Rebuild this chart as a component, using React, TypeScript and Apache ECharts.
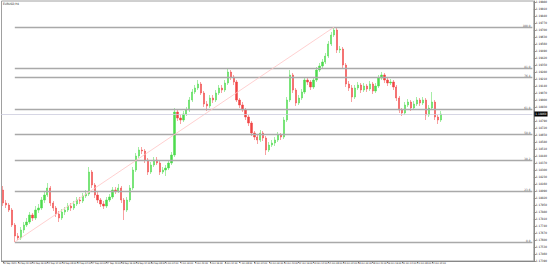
import React, { useEffect, useRef } from "react";
import * as echarts from "echarts";

const symbolTitle = "EURUSD,H4";

const opens = [
  1.1810, 1.1797, 1.1795, 1.1790, 1.1775, 1.1764, 1.1762, 1.1770, 1.1775, 1.1778,
  1.1785, 1.1782, 1.1790, 1.1792, 1.1800, 1.1805, 1.1812, 1.1797, 1.1792, 1.1786,
  1.1782, 1.1788, 1.1790, 1.1794, 1.1792, 1.1796, 1.1800, 1.1799, 1.1804, 1.1806,
  1.1828, 1.1815, 1.1805, 1.1800, 1.1796, 1.1794, 1.1800, 1.1803, 1.1810, 1.1809,
  1.1812, 1.1800, 1.1790, 1.1800, 1.1812, 1.1830, 1.1844, 1.1850, 1.1849, 1.1840,
  1.1828, 1.1835, 1.1840, 1.1837, 1.1828, 1.1830, 1.1832, 1.1837, 1.1845, 1.1888,
  1.1882, 1.1880, 1.1886, 1.1890, 1.1900, 1.1908, 1.1912, 1.1916, 1.1907, 1.1896,
  1.1894, 1.1902, 1.1900, 1.1907, 1.1912, 1.1910, 1.1917, 1.1928, 1.1923, 1.1918,
  1.1900, 1.1895, 1.1890, 1.1883, 1.1877, 1.1867, 1.1863, 1.1860, 1.1867, 1.1862,
  1.1850, 1.1855, 1.1857, 1.1860, 1.1865, 1.1863, 1.1880, 1.1900, 1.1925, 1.1910,
  1.1897, 1.1902, 1.1908, 1.1920, 1.1918, 1.1913, 1.1920, 1.1930, 1.1934, 1.1938,
  1.1944, 1.1956, 1.1965, 1.1970, 1.1950, 1.1951, 1.1935, 1.1916, 1.1912, 1.1903,
  1.1912, 1.1915, 1.1910, 1.1914, 1.1911, 1.1916, 1.1909, 1.1914, 1.1922, 1.1925,
  1.1920, 1.1917, 1.1918, 1.1913, 1.1902, 1.1890, 1.1887, 1.1895, 1.1898, 1.1892,
  1.1896, 1.1900, 1.1897, 1.1900, 1.1885, 1.1892, 1.1898, 1.1883, 1.1880,
];

const closes = [
  1.1797, 1.1795, 1.1790, 1.1775, 1.1764, 1.1762, 1.1770, 1.1775, 1.1778, 1.1785,
  1.1782, 1.1790, 1.1792, 1.1800, 1.1805, 1.1812, 1.1797, 1.1792, 1.1786, 1.1782,
  1.1788, 1.1790, 1.1794, 1.1792, 1.1796, 1.1800, 1.1799, 1.1804, 1.1806, 1.1828,
  1.1815, 1.1805, 1.1800, 1.1796, 1.1794, 1.1800, 1.1803, 1.1810, 1.1809, 1.1812,
  1.1800, 1.1790, 1.1800, 1.1812, 1.1830, 1.1844, 1.1850, 1.1849, 1.1840, 1.1828,
  1.1835, 1.1840, 1.1837, 1.1828, 1.1830, 1.1832, 1.1837, 1.1845, 1.1888, 1.1882,
  1.1880, 1.1886, 1.1890, 1.1900, 1.1908, 1.1912, 1.1916, 1.1907, 1.1896, 1.1894,
  1.1902, 1.1900, 1.1907, 1.1912, 1.1910, 1.1917, 1.1928, 1.1923, 1.1918, 1.1900,
  1.1895, 1.1890, 1.1883, 1.1877, 1.1867, 1.1863, 1.1860, 1.1867, 1.1862, 1.1850,
  1.1855, 1.1857, 1.1860, 1.1865, 1.1863, 1.1880, 1.1900, 1.1925, 1.1910, 1.1897,
  1.1902, 1.1908, 1.1920, 1.1918, 1.1913, 1.1920, 1.1930, 1.1934, 1.1938, 1.1944,
  1.1956, 1.1965, 1.1970, 1.1950, 1.1951, 1.1935, 1.1916, 1.1912, 1.1903, 1.1912,
  1.1915, 1.1910, 1.1914, 1.1911, 1.1916, 1.1909, 1.1914, 1.1922, 1.1925, 1.1920,
  1.1917, 1.1918, 1.1913, 1.1902, 1.1890, 1.1887, 1.1895, 1.1898, 1.1892, 1.1896,
  1.1900, 1.1897, 1.1900, 1.1885, 1.1892, 1.1898, 1.1883, 1.1880, 1.1886,
];

const highs = [
  1.1814, 1.1800, 1.1797, 1.1792, 1.1777, 1.1767, 1.1773, 1.1778, 1.1782, 1.1788,
  1.1787, 1.1794, 1.1796, 1.1803, 1.1808, 1.1817, 1.1814, 1.1799, 1.1794, 1.1789,
  1.1791, 1.1793, 1.1797, 1.1797, 1.1799, 1.1803, 1.1803, 1.1807, 1.1810, 1.1833,
  1.1830, 1.1817, 1.1808, 1.1802, 1.1799, 1.1803, 1.1806, 1.1813, 1.1813, 1.1816,
  1.1814, 1.1802, 1.1803, 1.1815, 1.1833, 1.1847, 1.1853, 1.1853, 1.1851, 1.1842,
  1.1838, 1.1843, 1.1843, 1.1839, 1.1833, 1.1835, 1.1840, 1.1848, 1.1892, 1.1891,
  1.1885, 1.1889, 1.1893, 1.1903, 1.1911, 1.1915, 1.1920, 1.1918, 1.1909, 1.1899,
  1.1905, 1.1905, 1.1910, 1.1915, 1.1915, 1.1920, 1.1932, 1.1930, 1.1925, 1.1920,
  1.1902, 1.1898, 1.1892, 1.1885, 1.1879, 1.1869, 1.1865, 1.1870, 1.1869, 1.1864,
  1.1858, 1.1860, 1.1863, 1.1868, 1.1867, 1.1883, 1.1903, 1.1930, 1.1927, 1.1912,
  1.1905, 1.1911, 1.1923, 1.1922, 1.1920, 1.1923, 1.1933, 1.1937, 1.1941, 1.1947,
  1.1959, 1.1968, 1.1973, 1.1972, 1.1954, 1.1953, 1.1937, 1.1919, 1.1915, 1.1915,
  1.1918, 1.1917, 1.1917, 1.1916, 1.1919, 1.1918, 1.1917, 1.1925, 1.1928, 1.1927,
  1.1922, 1.1921, 1.1920, 1.1915, 1.1904, 1.1892, 1.1898, 1.1901, 1.1900, 1.1899,
  1.1903, 1.1902, 1.1903, 1.1902, 1.1895, 1.1908, 1.1900, 1.1885, 1.1889,
];

const lows = [
  1.1794, 1.1792, 1.1788, 1.1773, 1.1758, 1.1760, 1.1760, 1.1767, 1.1773, 1.1776,
  1.1779, 1.1780, 1.1787, 1.1790, 1.1797, 1.1803, 1.1794, 1.1789, 1.1783, 1.1778,
  1.1780, 1.1785, 1.1788, 1.1789, 1.1790, 1.1794, 1.1796, 1.1797, 1.1802, 1.1804,
  1.1812, 1.1802, 1.1797, 1.1793, 1.1791, 1.1792, 1.1798, 1.1801, 1.1806, 1.1807,
  1.1797, 1.1780, 1.1788, 1.1798, 1.1810, 1.1828, 1.1842, 1.1846, 1.1837, 1.1825,
  1.1826, 1.1833, 1.1835, 1.1825, 1.1826, 1.1824, 1.1830, 1.1835, 1.1843, 1.1879,
  1.1876, 1.1878, 1.1884, 1.1888, 1.1898, 1.1906, 1.1910, 1.1905, 1.1893, 1.1889,
  1.1892, 1.1897, 1.1898, 1.1905, 1.1907, 1.1908, 1.1915, 1.1920, 1.1915, 1.1898,
  1.1892, 1.1888, 1.1880, 1.1874, 1.1864, 1.1860, 1.1856, 1.1858, 1.1859, 1.1845,
  1.1848, 1.1853, 1.1854, 1.1858, 1.1860, 1.1861, 1.1878, 1.1898, 1.1907, 1.1894,
  1.1895, 1.1900, 1.1906, 1.1915, 1.1910, 1.1911, 1.1918, 1.1928, 1.1932, 1.1936,
  1.1942, 1.1954, 1.1963, 1.1947, 1.1947, 1.1932, 1.1913, 1.1909, 1.1898, 1.1901,
  1.1910, 1.1907, 1.1908, 1.1908, 1.1909, 1.1906, 1.1907, 1.1912, 1.1920, 1.1917,
  1.1914, 1.1915, 1.1910, 1.1899, 1.1887, 1.1884, 1.1885, 1.1893, 1.1889, 1.1890,
  1.1894, 1.1894, 1.1895, 1.1880, 1.1883, 1.1890, 1.1880, 1.1876, 1.1878,
];

const timeLabels = [
  "20 Sep 2021", "20 Sep 20:00", "21 Sep 16:00", "22 Sep 12:00", "23 Sep 08:00", "24 Sep 04:00",
  "27 Sep 00:00", "27 Sep 20:00", "28 Sep 16:00", "29 Sep 12:00", "30 Sep 08:00", "1 Oct 04:00",
  "4 Oct 00:00", "4 Oct 20:00", "5 Oct 16:00", "6 Oct 12:00", "7 Oct 08:00", "8 Oct 04:00",
  "11 Oct 00:00", "11 Oct 20:00", "12 Oct 16:00", "13 Oct 12:00", "14 Oct 08:00", "15 Oct 04:00",
  "18 Oct 00:00", "18 Oct 20:00", "19 Oct 16:00", "20 Oct 12:00", "21 Oct 08:00", "22 Oct 04:00",
];

const fibLevels = [0, 23.6, 38.2, 50, 61.8, 76.4, 81.0, 100];
const fibLowIndex = 4;
const fibHighIndex = 112;
const totalSlots = 180;
const labelEvery = 5;

const FONT = "'Liberation Sans Narrow', 'DejaVu Sans Condensed', sans-serif";

export default function App() {
  const ref = useRef<HTMLDivElement>(null);
  useEffect(() => {
    const chart = echarts.init(ref.current!, null, { renderer: "svg" });
    const cats = Array.from({ length: totalSlots }, (_, i) =>
      i % labelEvery === 0 && i / labelEvery < timeLabels.length ? timeLabels[i / labelEvery] : ""
    );
    const candles = opens.map((o, i) => [o, closes[i], lows[i], highs[i]]);
    const lowP = lows[fibLowIndex];
    const highP = highs[fibHighIndex];
    const lastClose = closes[closes.length - 1];
    const fibLines = fibLevels.map((lv) => {
      const p = lowP + ((highP - lowP) * lv) / 100;
      return [
        {
          coord: [fibLowIndex, p],
          lineStyle: { color: "#a9a9a9", width: 1.3, type: "solid" },
          label: {
            show: true,
            position: "insideEndTop",
            formatter: lv.toFixed(1),
            fontSize: 3,
            fontFamily: FONT,
            color: "#555",
            distance: [2, 0],
          },
        },
        { coord: [totalSlots - 1, p] },
      ];
    });
    const trend = [
      { coord: [fibLowIndex, lowP], lineStyle: { color: "#ffc4c4", width: 0.8, type: "solid" }, label: { show: false } },
      { coord: [fibHighIndex, highP] },
    ];
    const bid = [
      {
        coord: [0, lastClose],
        x: 1,
        lineStyle: { color: "#ccccdd", width: 0.8, type: "solid" },
        label: {
          show: true,
          position: "end",
          formatter: lastClose.toFixed(5),
          fontSize: 3,
          fontFamily: FONT,
          color: "#fff",
          backgroundColor: "#000",
          padding: [1, 1],
          distance: 2,
        },
      },
      { coord: [totalSlots - 1, lastClose] },
    ];
    chart.setOption({
      animation: false,
      backgroundColor: "#fff",
      grid: { left: 1, right: 10, top: 1, bottom: 7, show: true, borderColor: "#a0a0a0", borderWidth: 1 },
      xAxis: {
        type: "category",
        data: cats,
        boundaryGap: true,
        axisLine: { show: true, lineStyle: { color: "#888", width: 1 } },
        axisTick: {
          show: true,
          alignWithLabel: true,
          interval: (_i: number, v: string) => v !== "",
          length: 2,
          lineStyle: { color: "#888" },
        },
        axisLabel: { interval: 0, fontSize: 2.4, fontFamily: FONT, color: "#222", align: "left", margin: 1.5 },
        splitLine: { show: false },
      },
      yAxis: {
        type: "value",
        position: "right",
        min: 1.1739,
        max: 1.1999,
        interval: 0.0007,
        axisLine: { show: true, lineStyle: { color: "#888", width: 1 } },
        axisTick: { show: true, length: 2, lineStyle: { color: "#888" } },
        axisLabel: {
          fontSize: 3,
          fontFamily: FONT,
          color: "#222",
          margin: 2,
          showMaxLabel: false,
          formatter: (v: number) => v.toFixed(5),
        },
        splitLine: { show: false },
      },
      graphic: [
        { type: "text", left: 3, top: 2, style: { text: symbolTitle, fontSize: 3, fontFamily: FONT, fill: "#222" } },
      ],
      series: [
        {
          type: "candlestick",
          data: candles,
          barWidth: 1.8,
          itemStyle: {
            color: "#4ddb4d",
            color0: "#f04444",
            borderColor: "#4ddb4d",
            borderColor0: "#f04444",
            borderWidth: 0.5,
          },
          markLine: {
            silent: true,
            symbol: ["none", "none"],
            animation: false,
            data: [...fibLines, trend, bid],
          },
        },
      ],
    });
    return () => chart.dispose();
  }, []);
  return <div ref={ref} style={{ position: "fixed", left: 0, top: 0, width: 550, height: 268 }} />;
}
